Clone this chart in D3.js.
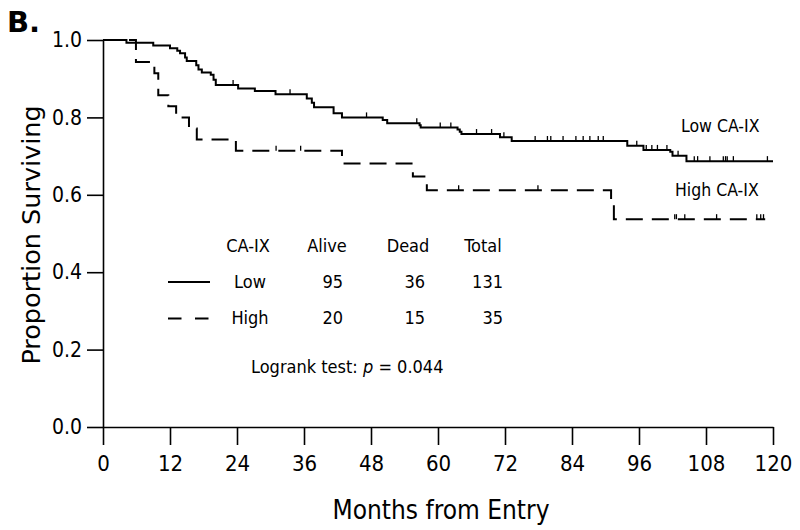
<!DOCTYPE html>
<html>
<head>
<meta charset="utf-8">
<script src="https://cdn.jsdelivr.net/npm/d3@7"></script>
<style>
  html, body { margin: 0; padding: 0; background: #fff; }
  svg { display: block; }
  text { fill: #000; }
  .cond { font-family: "DejaVu Sans Condensed", "DejaVu Sans", sans-serif; font-stretch: condensed; }
</style>
</head>
<body>
<svg id="chart" width="800" height="530"></svg>
<script>
// ---- data ----
const xTicks = [0, 12, 24, 36, 48, 60, 72, 84, 96, 108, 120];
const yTicks = [0.0, 0.2, 0.4, 0.6, 0.8, 1.0];

// Kaplan-Meier steps: [month, proportion surviving]
const lowSteps = [
  [0, 1.0], [4.2, 0.993], [9.0, 0.986], [12.0, 0.979], [13.3, 0.972], [13.8, 0.966],
  [14.7, 0.955], [15.0, 0.946], [16.7, 0.935], [17.1, 0.924], [17.7, 0.916],
  [19.3, 0.910], [19.8, 0.897], [20.2, 0.884], [24.2, 0.875], [27.2, 0.868],
  [30.9, 0.860], [36.5, 0.849], [37.4, 0.838], [37.8, 0.826], [41.3, 0.811],
  [42.8, 0.800], [50.1, 0.793], [50.9, 0.785], [56.7, 0.780], [56.9, 0.774],
  [63.5, 0.769], [63.9, 0.763], [64.2, 0.757], [71.1, 0.749], [73.2, 0.739],
  [93.9, 0.727], [96.8, 0.716], [101.6, 0.711], [102.0, 0.701], [104.5, 0.687]
];
const lowEnd = 120;
const lowCensored = [23.3, 33.5, 47.2, 56.2, 60.4, 62.3, 66.9, 69.6, 71.8, 77.4, 79.6,
  80.2, 82.4, 84.7, 86.0, 87.2, 88.7, 89.6, 95.6, 97.3, 98.3, 99.3, 101.0, 103.0,
  105.9, 106.5, 108.7, 111.1, 111.5, 111.8, 112.9, 119.0];

const highSteps = [
  [0, 1.0], [5.9, 0.943], [9.2, 0.914], [9.9, 0.857], [11.7, 0.829], [13.1, 0.800],
  [15.4, 0.771], [16.8, 0.743], [23.8, 0.714], [42.8, 0.681], [55.5, 0.647],
  [58.0, 0.612], [91.0, 0.575], [91.5, 0.537]
];
const highEnd = 118.6;
const highCensored = [31.0, 35.4, 63.7, 77.9, 102.4, 102.7, 104.2, 109.9, 117.1, 117.8, 118.3];

const tableHeader = ["CA-IX", "Alive", "Dead", "Total"];
const groups = ["Low", "High"];
const alive = [95, 20];
const dead = [36, 15];
const total = [131, 35];
const curveLabels = ["Low CA-IX", "High CA-IX"];
const pValue = "0.044";

// ---- drawing ----
const svg = d3.select("#chart");
const x = d3.scaleLinear().domain([0, 120]).range([103, 773]);
const y = d3.scaleLinear().domain([0, 1]).range([427, 40]);

// Y axis
const yAxis = svg.append("g").attr("transform", "translate(103,0)")
  .call(d3.axisLeft(y).tickValues(yTicks).tickFormat(d3.format(".1f"))
    .tickSize(16).tickSizeOuter(0).tickPadding(5));
yAxis.selectAll("text").attr("class", "cond").attr("font-size", 21);

// X axis
const xAxis = svg.append("g").attr("transform", "translate(0,427)")
  .call(d3.axisBottom(x).tickValues(xTicks).tickFormat(d3.format("d"))
    .tickSize(18).tickSizeOuter(0).tickPadding(10));
xAxis.selectAll("text").attr("class", "cond").attr("font-size", 22);
svg.selectAll(".domain, .tick line").attr("stroke", "#000").attr("stroke-width", 1.6);

// Axis titles
svg.append("text").attr("class", "cond").attr("x", 441).attr("y", 519)
  .attr("text-anchor", "middle").attr("font-size", 26).text("Months from Entry");
svg.append("text").attr("transform", "translate(40,235) rotate(-90)")
  .attr("font-family", "DejaVu Sans, sans-serif")
  .attr("text-anchor", "middle").attr("font-size", 25.5).text("Proportion Surviving");

// Panel letter
svg.append("text").attr("x", 7).attr("y", 32).attr("font-family", "DejaVu Sans, sans-serif")
  .attr("font-weight", "bold").attr("font-size", 29).text("B.");

// KM curves
const line = d3.line().x(d => x(d[0])).y(d => y(d[1])).curve(d3.curveStepAfter);
function survAt(steps, t) {
  let s = steps[0][1];
  for (const st of steps) { if (st[0] <= t) s = st[1]; }
  return s;
}
function drawCurve(steps, end, censored, dash) {
  const pts = steps.concat([[end, steps[steps.length - 1][1]]]);
  svg.append("path").datum(pts).attr("d", line)
    .attr("fill", "none").attr("stroke", "#000").attr("stroke-width", 2)
    .attr("stroke-dasharray", dash);
  svg.append("g").selectAll("line").data(censored).join("line")
    .attr("x1", d => x(d)).attr("x2", d => x(d))
    .attr("y1", d => y(survAt(steps, d)))
    .attr("y2", d => y(survAt(steps, d)) - 5)
    .attr("stroke", "#000").attr("stroke-width", 1.3);
}
drawCurve(lowSteps, lowEnd, lowCensored, null);
drawCurve(highSteps, highEnd, highCensored, "17,9");

// Curve labels
svg.append("text").attr("class", "cond").attr("x", 681).attr("y", 132)
  .attr("font-size", 17.5).text(curveLabels[0]);
svg.append("text").attr("class", "cond").attr("x", 675).attr("y", 196)
  .attr("font-size", 17.5).text(curveLabels[1]);

// Legend table
const fs = 18;
const hdrX = [248, 327, 408, 483];
hdrX.forEach((cx, i) => {
  svg.append("text").attr("class", "cond").attr("x", cx).attr("y", 251.5)
    .attr("text-anchor", "middle").attr("font-size", fs).text(tableHeader[i]);
});
const rowY = [288, 323.5];
const lineY = [282, 318.5];
groups.forEach((g, i) => {
  svg.append("line").attr("x1", 168).attr("x2", 210).attr("y1", lineY[i]).attr("y2", lineY[i])
    .attr("stroke", "#000").attr("stroke-width", 2)
    .attr("stroke-dasharray", i === 0 ? null : "13.5,13.5");
  svg.append("text").attr("class", "cond").attr("x", 250).attr("y", rowY[i])
    .attr("text-anchor", "middle").attr("font-size", fs).text(g);
  [[alive[i], 343], [dead[i], 425], [total[i], 503]].forEach(([v, rx]) => {
    svg.append("text").attr("class", "cond").attr("x", rx).attr("y", rowY[i])
      .attr("text-anchor", "end").attr("font-size", fs).text(v);
  });
});

// Logrank
const lr = svg.append("text").attr("class", "cond").attr("x", 251).attr("y", 373)
  .attr("font-size", fs);
lr.append("tspan").text("Logrank test: ");
lr.append("tspan").attr("font-style", "italic").text("p");
lr.append("tspan").text(" = " + pValue);
</script>
</body>
</html>
